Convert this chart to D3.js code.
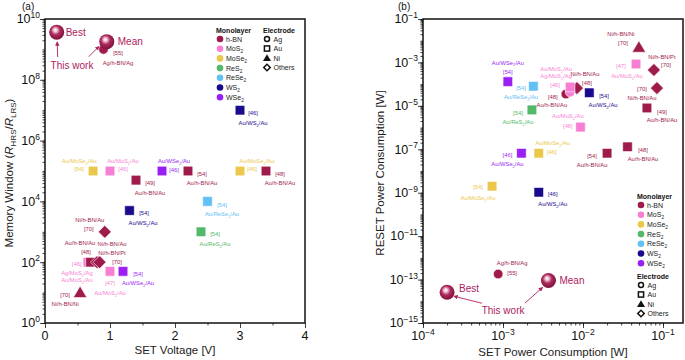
<!DOCTYPE html>
<html>
<head>
<meta charset="utf-8">
<script src="https://cdn.jsdelivr.net/npm/d3@7"></script>
<style>
  body { margin: 0; background: #fff; }
  text { font-family: "Liberation Sans", Arial, sans-serif; }
</style>
</head>
<body>
<div id="chart"></div>
<script>
const width = 685, height = 360;

// Categories
const materials = ["h-BN", "MoS_2", "MoSe_2", "ReS_2", "ReSe_2", "WS_2", "WSe_2"];
const electrodes = ["Ag", "Au", "Ni", "Others"];

// Panel (a): [SET voltage (V), memory window, monolayer, electrode]
const memoryPoints = [
  [0.9, 1e9, "h-BN", "Ag"],
  [3.0, 1e7, "WS_2", "Au"],
  [0.74, 1e5, "MoSe_2", "Au"],
  [1.0, 1e5, "MoS_2", "Au"],
  [1.4, 5e4, "h-BN", "Au"],
  [1.8, 1e5, "WSe_2", "Au"],
  [2.2, 1e5, "h-BN", "Au"],
  [3.0, 1e5, "MoSe_2", "Au"],
  [3.4, 1e5, "h-BN", "Au"],
  [2.5, 1e4, "ReSe_2", "Au"],
  [1.3, 5e3, "WS_2", "Au"],
  [2.4, 1e3, "ReS_2", "Au"],
  [0.92, 1e3, "h-BN", "Others"],
  [0.66, 1e2, "MoS_2", "Ag"],
  [0.66, 1e2, "MoS_2", "Au"],
  [0.7, 1e2, "h-BN", "Au"],
  [0.8, 1e2, "h-BN", "Others"],
  [0.84, 1e2, "h-BN", "Others"],
  [1.0, 50, "MoS_2", "Au"],
  [1.2, 50, "WSe_2", "Au"],
  [0.54, 10, "h-BN", "Ni"]
];
const thisWorkA = [["Best", 0.18, 3.7e9], ["Mean", 0.95, 1.8e9]];

// Panel (b): [SET power (W), RESET power (W), monolayer, electrode]
const powerPoints = [
  [8.7e-4, 1.8e-13, "h-BN", "Ag"],
  [1.15e-3, 1.3e-4, "WSe_2", "Au"],
  [2.4e-3, 8e-5, "ReSe_2", "Au"],
  [2.3e-3, 6.5e-6, "ReS_2", "Au"],
  [6.1e-3, 3.5e-5, "h-BN", "Ag"],
  [8.4e-3, 6.6e-5, "h-BN", "Others"],
  [6.9e-3, 4.3e-5, "MoS_2", "Ag"],
  [6.9e-3, 7.4e-5, "MoS_2", "Au"],
  [1.2e-2, 4e-5, "WS_2", "Au"],
  [4.6e-2, 8.5e-4, "MoS_2", "Au"],
  [5e-2, 5e-3, "h-BN", "Ni"],
  [7.7e-2, 4.5e-4, "h-BN", "Others"],
  [8.4e-2, 6.6e-5, "h-BN", "Others"],
  [6.3e-2, 8e-6, "h-BN", "Au"],
  [9.3e-3, 1.05e-6, "MoS_2", "Au"],
  [3.6e-2, 1.3e-7, "h-BN", "Au"],
  [2e-2, 6.6e-8, "h-BN", "Au"],
  [1.7e-3, 6.6e-8, "WSe_2", "Au"],
  [2.8e-3, 6.6e-8, "MoSe_2", "Au"],
  [7.3e-4, 2e-9, "MoSe_2", "Au"],
  [2.8e-3, 1.05e-9, "WS_2", "Au"]
];
const thisWorkB = [["Best", 2e-4, 2.6e-14], ["Mean", 3.7e-3, 9e-14]];

// Tick labels
const xTicksA = [0, 1, 2, 3, 4];
const yLabelExpA = [0, 2, 4, 6, 8, 10];
const xLabelExpB = [-4, -3, -2, -1];
const yLabelExpB = [-15, -13, -11, -9, -7, -5, -3, -1];

// Annotation text: [point index, text, dx, dy] (offsets from the marker)
const labelsA = [
  [0, "[55]", 14.5, 4], [0, "Ag/h-BN/Ag", 14.5, 14],
  [1, "[46]", 13, 3], [1, "Au/WS_2/Au", 13, 13],
  [2, "Au/MoSe_2/Au", -14, -10], [2, "[54]", -14, -2],
  [3, "Au/MoS_2/Au", 13, -10], [3, "[46]", 13, -2],
  [4, "[49]", 14, 3], [4, "Au/h-BN/Au", 14, 13],
  [5, "Au/WSe_2/Au", 12, -10], [5, "[46]", 12, -1],
  [6, "[54]", 14, 3], [6, "Au/h-BN/Au", 14, 12],
  [7, "Au/MoSe_2/Au", 17, -10], [7, "[46]", 12, -2],
  [8, "[48]", 14, 3], [8, "Au/h-BN/Au", 14, 12],
  [9, "[54]", 14.5, 3.6], [9, "Au/ReSe_2/Au", 14.5, 12.6],
  [10, "[54]", 14.5, 2.4], [10, "Au/WS_2/Au", 13.5, 12.4],
  [11, "[54]", 14, 2], [11, "Au/ReS_2/Au", 14, 12],
  [12, "Ni/h-BN/Au", -15, -12], [12, "[70]", -16, -3],
  [13, "[46]", -11, 2], [13, "Ag/MoS_2/Ag", -11, 11], [13, "Au/MoS_2/Au", -11, 18],
  [15, "Au/h-BN/Au", -10.5, -19], [15, "[48]", -4.5, -10],
  [16, "Ni/h-BN/Au", 15, -18], [16, "Ni/h-BN/Pt", 15, -9], [16, "[70]", 20, 0],
  [18, "[47]", 0, 12], [18, "Au/MoS_2/Au", 0, 22],
  [19, "[54]", 15, 3], [19, "Au/WSe_2/Au", 15, 12],
  [20, "[70]", -15, 2], [20, "Ni/h-BN/Ni", -15, 11]
];
const labelsB = [
  [0, "Ag/h-BN/Ag", 14, -11], [0, "[55]", 14, -1],
  [1, "Au/WSe_2/Au", 0, -19], [1, "[54]", 0, -10],
  [2, "[54]", -12.4, 2], [2, "Au/ReSe_2/Au", -12.4, 11],
  [3, "[54]", -14, 3], [3, "Au/ReS_2/Au", -14, 12],
  [7, "Au/MoS_2/Au", -14, -18], [7, "Ag/MoS_2/Ag", -14, -11], [7, "[46]", -15, -2],
  [5, "Ni/h-BN/Au", 8, -14], [5, "[48]", 10, -5],
  [4, "[48]", -13, 3], [4, "Au/h-BN/Au", -14, 11],
  [8, "[54]", 14.7, 3], [8, "Au/WS_2/Au", 13.7, 12],
  [9, "[47]", -15, 2], [9, "Au/MoS_2/Au", -9, 12],
  [10, "Ni/h-BN/Ni", -18, -13], [10, "[70]", -16, -4],
  [11, "Ni/h-BN/Pt", 8, -13], [11, "[70]", 12, -5],
  [12, "[70]", -15, 1], [12, "Ni/h-BN/Au", -15, 10],
  [13, "[49]", 15, 4], [13, "Au/h-BN/Au", 15, 12],
  [14, "Au/MoS_2/Au", -12.6, -11], [14, "[46]", -12.6, -1],
  [15, "[48]", 15.5, 3], [15, "Au/h-BN/Au", 15.5, 12],
  [16, "[54]", -15, 3], [16, "Au/h-BN/Au", -15, 12],
  [17, "[46]", -14, 2], [17, "Au/WSe_2/Au", -14, 11],
  [18, "Au/MoSe_2/Au", 14, -10], [18, "[46]", 13, -1],
  [19, "[54]", -14, 1], [19, "Au/MoSe_2/Au", -14, 12],
  [20, "[46]", 14, 2], [20, "Au/WS_2/Au", 14, 12]
];

const colorScale = d3.scaleOrdinal()
  .domain(materials)
  .range(["#9e1b4c", "#f77fd3", "#ebc84c", "#52b86a", "#62c0f5", "#1a0b8c", "#9a1ff2"]);
const workColor = "#ad2260";

const svg = d3.select("#chart").append("svg")
  .attr("width", width).attr("height", height);

const defs = svg.append("defs");
const grad = defs.append("radialGradient").attr("id", "sphere")
  .attr("cx", "45%").attr("cy", "42%").attr("r", "60%").attr("fx", "40%").attr("fy", "35%");
[[0, "#ffffff"], [0.2, "#f0c4d4"], [0.5, "#ad2a5e"], [1, "#7a1038"]].forEach(s =>
  grad.append("stop").attr("offset", s[0]).attr("stop-color", s[1]));
defs.append("marker").attr("id", "arrow")
  .attr("viewBox", "0 0 10 10").attr("refX", 8).attr("refY", 5)
  .attr("markerWidth", 5).attr("markerHeight", 5).attr("orient", "auto")
  .append("path").attr("d", "M0,0 L10,5 L0,10 z").attr("fill", workColor);

// text with _sub and ^sup markup
function rich(sel, str, fs) {
  const parts = [];
  const re = /([_^])(\{[^}]*\}|.)/g;
  let last = 0, m;
  while ((m = re.exec(str))) {
    if (m.index > last) parts.push([str.slice(last, m.index), 0]);
    let t = m[2];
    if (t[0] === "{") t = t.slice(1, -1);
    parts.push([t, m[1] === "_" ? 1 : -1]);
    last = re.lastIndex;
  }
  if (last < str.length) parts.push([str.slice(last), 0]);
  let cur = 0;
  parts.forEach(([t, s]) => {
    const target = s > 0 ? fs * 0.3 : (s < 0 ? -fs * 0.42 : 0);
    const ts = sel.append("tspan").text(t).attr("dy", target - cur);
    if (s) ts.attr("font-size", fs * 0.68);
    cur = target;
  });
  return sel;
}

function marker(g, x, y, electrode, color) {
  if (electrode === "Ag") {
    g.append("circle").attr("cx", x).attr("cy", y).attr("r", 4.8)
      .attr("fill", color).attr("stroke", "#fff").attr("stroke-width", 0.6);
  } else if (electrode === "Au") {
    g.append("rect").attr("x", x - 4.8).attr("y", y - 4.8).attr("width", 9.6).attr("height", 9.6)
      .attr("rx", 0.8).attr("fill", color).attr("stroke", "#fff").attr("stroke-width", 0.6);
  } else if (electrode === "Ni") {
    g.append("path").attr("d", `M${x},${y - 6.5}L${x + 6.8},${y + 5}L${x - 6.8},${y + 5}Z`)
      .attr("fill", color).attr("stroke", "#fff").attr("stroke-width", 0.6).attr("stroke-linejoin", "round");
  } else {
    g.append("rect").attr("x", -4.6).attr("y", -4.6).attr("width", 9.2).attr("height", 9.2)
      .attr("rx", 0.6)
      .attr("transform", `translate(${x},${y}) rotate(45)`)
      .attr("fill", color).attr("stroke", "#fff").attr("stroke-width", 0.6);
  }
}

function legendMarker(g, x, y, electrode) {
  if (electrode === "Ag") {
    g.append("circle").attr("cx", x).attr("cy", y).attr("r", 2.5)
      .attr("fill", "#fff").attr("stroke", "#111").attr("stroke-width", 1.5);
  } else if (electrode === "Au") {
    g.append("rect").attr("x", x - 2.6).attr("y", y - 2.6).attr("width", 5.2).attr("height", 5.2)
      .attr("fill", "#fff").attr("stroke", "#111").attr("stroke-width", 1.5);
  } else if (electrode === "Ni") {
    g.append("path").attr("d", `M${x},${y - 3.8}L${x + 4},${y + 3}L${x - 4},${y + 3}Z`).attr("fill", "#111");
  } else {
    g.append("rect").attr("x", -2.3).attr("y", -2.3).attr("width", 4.6).attr("height", 4.6)
      .attr("transform", `translate(${x},${y}) rotate(45)`)
      .attr("fill", "#fff").attr("stroke", "#111").attr("stroke-width", 1.5);
  }
}

function logTicks(lo, hi) {
  const out = [];
  for (let d = Math.floor(Math.log10(lo)); d <= Math.ceil(Math.log10(hi)); d++) {
    for (let k = 1; k < 10; k++) {
      const v = k * Math.pow(10, d);
      if (v >= lo * 0.999 && v <= hi * 1.001) out.push(v);
    }
  }
  return out;
}

function styleAxis(g) {
  g.select(".domain").remove();
  g.selectAll("line").attr("stroke", "#111").attr("stroke-width", 0.8);
}

function drawPanel(cfg) {
  const { x, y, points, labels, work, xTicksMinor, xTicksMajor, yLabelExps, xLabel, yLabel, legendPos } = cfg;
  const [x0, x1] = x.range();
  const [y0, y1] = y.range();
  const g = svg.append("g");

  // Axes (ticks only)
  const yMinor = logTicks(y.domain()[0], y.domain()[1]);
  g.append("g").attr("transform", `translate(${x0},0)`)
    .call(d3.axisLeft(y).tickValues(yMinor).tickSize(2.5).tickFormat("")).call(styleAxis);
  g.append("g").attr("transform", `translate(${x0},0)`)
    .call(d3.axisLeft(y).tickValues(yLabelExps.map(e => Math.pow(10, e))).tickSize(5).tickFormat("")).call(styleAxis);
  g.append("g").attr("transform", `translate(0,${y0})`)
    .call(d3.axisBottom(x).tickValues(xTicksMinor).tickSize(2.5).tickFormat("")).call(styleAxis);
  g.append("g").attr("transform", `translate(0,${y0})`)
    .call(d3.axisBottom(x).tickValues(xTicksMajor.map(t => t[0])).tickSize(5).tickFormat("")).call(styleAxis);

  // Tick labels
  yLabelExps.forEach(e => {
    const t = g.append("text").attr("x", x0 - 5).attr("y", y(Math.pow(10, e)) + 4.3)
      .attr("text-anchor", "end").attr("font-size", 12.5).attr("fill", "#111");
    rich(t, "10^{" + String(e).replace("-", "\u2212") + "}", 12.5);
  });
  xTicksMajor.forEach(([v, s]) => {
    const t = g.append("text").attr("x", x(v)).attr("y", y0 + 17)
      .attr("text-anchor", "middle").attr("font-size", 12.5).attr("fill", "#111");
    rich(t, s, 12.5);
  });

  // Frame
  g.append("rect").attr("x", x0).attr("y", y1).attr("width", x1 - x0).attr("height", y0 - y1)
    .attr("fill", "none").attr("stroke", "#111").attr("stroke-width", 1.5);

  // Axis titles
  g.append("text").attr("x", (x0 + x1) / 2).attr("y", xLabel[1]).attr("text-anchor", "middle")
    .attr("font-size", 11.5).attr("fill", "#222").text(xLabel[0]);
  const yl = g.append("text").attr("transform", `translate(${yLabel[1]},${(y0 + y1) / 2 + 2}) rotate(-90)`)
    .attr("text-anchor", "middle").attr("font-size", 11.5).attr("fill", "#222");
  yLabel[0](yl);

  // Points
  const pg = g.append("g");
  points.forEach(p => marker(pg, x(p[0]), y(p[1]), p[3], colorScale(p[2])));

  // Point labels
  labels.forEach(([i, s, dx, dy]) => {
    const p = points[i];
    const t = g.append("text").attr("x", x(p[0]) + dx).attr("y", y(p[1]) + dy + 2)
      .attr("text-anchor", "middle").attr("font-size", 5.8).attr("fill", colorScale(p[2]));
    rich(t, s, 5.8);
  });

  // This work spheres
  work.forEach(([name, vx, vy]) => {
    g.append("circle").attr("cx", x(vx)).attr("cy", y(vy)).attr("r", 7.5).attr("fill", "url(#sphere)");
  });
  const best = { x: x(work[0][1]), y: y(work[0][2]) };
  const mean = { x: x(work[1][1]), y: y(work[1][2]) };
  const ann = cfg.annot;
  g.append("text").attr("x", best.x + ann.best[0]).attr("y", best.y + ann.best[1] + 3.5)
    .attr("font-size", 10).attr("fill", workColor).text("Best");
  g.append("text").attr("x", mean.x + ann.mean[0]).attr("y", mean.y + ann.mean[1] + 3.5)
    .attr("font-size", 10).attr("fill", workColor).text("Mean");
  g.append("text").attr("x", best.x + ann.work[0]).attr("y", best.y + ann.work[1] + 3.5)
    .attr("text-anchor", "middle").attr("font-size", 10).attr("fill", workColor).text("This work");
  [[best, ann.arrowBest], [mean, ann.arrowMean]].forEach(([pt, a]) => {
    g.append("line").attr("x1", pt.x + a[0]).attr("y1", pt.y + a[1])
      .attr("x2", pt.x + a[2]).attr("y2", pt.y + a[3])
      .attr("stroke", workColor).attr("stroke-width", 0.9).attr("marker-end", "url(#arrow)");
  });

  // Legend
  const lg = g.append("g");
  const L = legendPos;
  lg.append("text").attr("x", L.mx).attr("y", L.my + 2.5).attr("font-size", 7).attr("font-weight", "bold")
    .attr("fill", "#111").text("Monolayer");
  materials.forEach((m, i) => {
    const cy = L.my + 9 + i * 9.7;
    lg.append("circle").attr("cx", L.mx + 4).attr("cy", cy).attr("r", 3.3).attr("fill", colorScale(m));
    const t = lg.append("text").attr("x", L.mx + 10).attr("y", cy + 2.5).attr("font-size", 7).attr("fill", "#222");
    rich(t, m, 7);
  });
  lg.append("text").attr("x", L.ex).attr("y", L.ey + 2.5).attr("font-size", 7).attr("font-weight", "bold")
    .attr("fill", "#111").text("Electrode");
  electrodes.forEach((e, i) => {
    const cy = L.ey + 9 + i * 9.5;
    legendMarker(lg, L.ex + 4, cy, e);
    lg.append("text").attr("x", L.ex + 10.5).attr("y", cy + 2.5).attr("font-size", 7).attr("fill", "#222").text(e);
  });
}

const xA = d3.scaleLinear().domain([0, 4]).range([45, 305]);
const yA = d3.scaleLog().domain([1, 1e10]).range([323, 19]);
const xB = d3.scaleLog().domain([1e-4, Math.pow(10, -0.75)]).range([423, 683]);
const yB = d3.scaleLog().domain([1e-15, 1e-1]).range([323, 19]);

drawPanel({
  x: xA, y: yA, points: memoryPoints, labels: labelsA, work: thisWorkA,
  xTicksMinor: [0.5, 1.5, 2.5, 3.5],
  xTicksMajor: xTicksA.map(v => [v, String(v)]),
  yLabelExps: yLabelExpA,
  xLabel: ["SET Voltage [V]", 354],
  yLabel: [t => {
    t.append("tspan").text("Memory Window (");
    t.append("tspan").attr("font-style", "italic").text("R");
    t.append("tspan").attr("font-size", 8).attr("dy", 3).text("HRS");
    t.append("tspan").attr("dy", -3).text("/");
    t.append("tspan").attr("font-style", "italic").text("R");
    t.append("tspan").attr("font-size", 8).attr("dy", 3).text("LRS");
    t.append("tspan").attr("dy", -3).text(")");
  }, 13],
  annot: { best: [9, 0], mean: [11, 0], work: [15.3, 33.5],
           arrowBest: [1, 25, 0.5, 10], arrowMean: [-18, 15, -8, 5] },
  legendPos: { mx: 216, my: 30, ex: 263, ey: 30 }
});

drawPanel({
  x: xB, y: yB, points: powerPoints, labels: labelsB, work: thisWorkB,
  xTicksMinor: logTicks(1e-4, Math.pow(10, -0.75)),
  xTicksMajor: xLabelExpB.map(e => [Math.pow(10, e), "10^{" + String(e).replace("-", "\u2212") + "}"]),
  yLabelExps: yLabelExpB,
  xLabel: ["SET Power Consumption  [W]", 356],
  yLabel: [t => t.text("RESET Power Consumption  [W]"), 384],
  annot: { best: [12, -4], mean: [11, 0], work: [56, 18],
           arrowBest: [35, 11, 7, 4], arrowMean: [-23.5, 22.5, -6, 7] },
  legendPos: { mx: 637, my: 196, ex: 637, ey: 276 }
});

// Panel letters
svg.append("text").attr("x", 22).attr("y", 10).attr("font-size", 10).attr("fill", "#111").text("(a)");
svg.append("text").attr("x", 398).attr("y", 10).attr("font-size", 10).attr("fill", "#111").text("(b)");
</script>
</body>
</html>
